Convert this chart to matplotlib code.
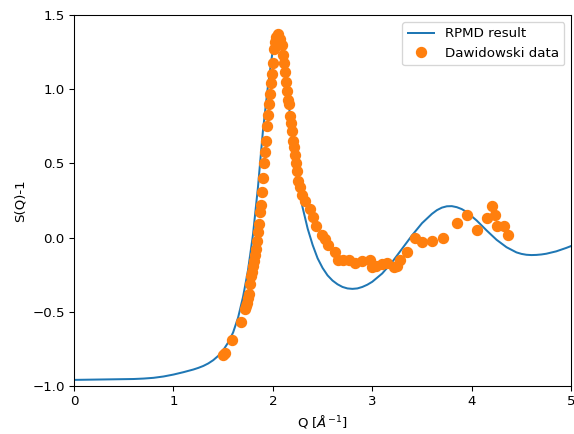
import matplotlib
matplotlib.use("Agg")
import matplotlib.pyplot as plt

# RPMD curve
q_rpmd = [0.0, 0.3, 0.6, 0.7, 0.8, 0.9, 1.0, 1.1, 1.2, 1.25, 1.3, 1.35, 1.4,
          1.45, 1.5, 1.55, 1.6, 1.65, 1.7, 1.75, 1.8, 1.85, 1.9, 1.95, 2.0,
          2.03, 2.06, 2.09, 2.12, 2.15, 2.18, 2.21, 2.25, 2.3, 2.35, 2.4, 2.45,
          2.5, 2.55, 2.6, 2.65, 2.7, 2.75, 2.8, 2.85, 2.9, 2.95, 3.0, 3.1, 3.2,
          3.3, 3.4, 3.5, 3.6, 3.65, 3.7, 3.75, 3.8, 3.85, 3.9, 3.95, 4.05,
          4.15, 4.25, 4.35, 4.45, 4.5, 4.55, 4.6, 4.65, 4.7, 4.75, 4.85, 4.95,
          5.0]
s_rpmd = [-0.960, -0.957, -0.954, -0.951, -0.946, -0.937, -0.924, -0.908,
          -0.890, -0.879, -0.866, -0.849, -0.827, -0.798, -0.760, -0.708,
          -0.640, -0.540, -0.400, -0.220, 0.020, 0.340, 0.720, 1.020, 1.270,
          1.350, 1.370, 1.320, 1.180, 0.980, 0.760, 0.560, 0.360, 0.200,
          0.060, -0.050, -0.140, -0.205, -0.255, -0.290, -0.315, -0.333,
          -0.343, -0.346, -0.343, -0.333, -0.318, -0.298, -0.242, -0.165,
          -0.075, 0.015, 0.097, 0.160, 0.185, 0.202, 0.211, 0.212, 0.205,
          0.192, 0.172, 0.115, 0.048, -0.015, -0.065, -0.100, -0.110, -0.116,
          -0.118, -0.117, -0.114, -0.109, -0.093, -0.070, -0.057]

# Dawidowski experimental points
q_exp = [1.50, 1.52, 1.59, 1.68, 1.72, 1.73, 1.74, 1.75, 1.76, 1.77, 1.78,
         1.79, 1.80, 1.81, 1.82, 1.83, 1.84, 1.85, 1.86, 1.87, 1.88, 1.89,
         1.90, 1.91, 1.92, 1.93, 1.94, 1.95, 1.96, 1.97, 1.98, 1.99, 2.00,
         2.01, 2.02, 2.03, 2.05, 2.07, 2.09, 2.10, 2.11, 2.12, 2.13, 2.14,
         2.15, 2.16, 2.17, 2.18, 2.19, 2.20, 2.21, 2.22, 2.23, 2.24, 2.25,
         2.27, 2.29, 2.32, 2.37, 2.40, 2.43, 2.49, 2.52, 2.55, 2.62, 2.66,
         2.71, 2.77, 2.83, 2.90, 2.98, 3.00, 3.04, 3.10, 3.15, 3.22, 3.25,
         3.28, 3.35, 3.43, 3.50, 3.60, 3.71, 3.85, 3.95, 4.05, 4.15, 4.20,
         4.23, 4.25, 4.32, 4.36]
s_exp = [-0.79, -0.78, -0.69, -0.57, -0.48, -0.46, -0.44, -0.41, -0.38, -0.31,
         -0.26, -0.23, -0.19, -0.16, -0.12, -0.08, -0.02, 0.04, 0.09, 0.17,
         0.22, 0.31, 0.40, 0.50, 0.58, 0.65, 0.75, 0.83, 0.90, 0.97, 1.04,
         1.10, 1.18, 1.27, 1.32, 1.35, 1.37, 1.34, 1.30, 1.23, 1.18, 1.12,
         1.05, 0.99, 0.93, 0.90, 0.82, 0.77, 0.72, 0.65, 0.61, 0.56, 0.50,
         0.45, 0.38, 0.34, 0.29, 0.25, 0.19, 0.14, 0.08, 0.02, -0.01, -0.05,
         -0.10, -0.15, -0.15, -0.15, -0.17, -0.16, -0.15, -0.20, -0.19, -0.18,
         -0.17, -0.20, -0.19, -0.15, -0.10, 0.00, -0.03, -0.02, 0.00, 0.10,
         0.15, 0.05, 0.13, 0.21, 0.15, 0.08, 0.08, 0.02]

fig = plt.figure(figsize=(574 / 96, 434 / 96), dpi=96)
ax = fig.add_subplot(111)
fig.subplots_adjust(left=0.129, right=0.995, bottom=0.111, top=0.965)

ax.plot(q_rpmd, s_rpmd, color="C0", label="RPMD result")
ax.plot(q_exp, s_exp, "o", color="C1", ms=7.5, label="Dawidowski data")

ax.set_xlim(0, 5)
ax.set_ylim(-1.0, 1.5)
ax.set_xlabel(r"Q [$\AA^{-1}$]")
ax.set_ylabel("S(Q)-1")
ax.legend(loc="upper right")

fig.savefig("out.png", dpi=96)
